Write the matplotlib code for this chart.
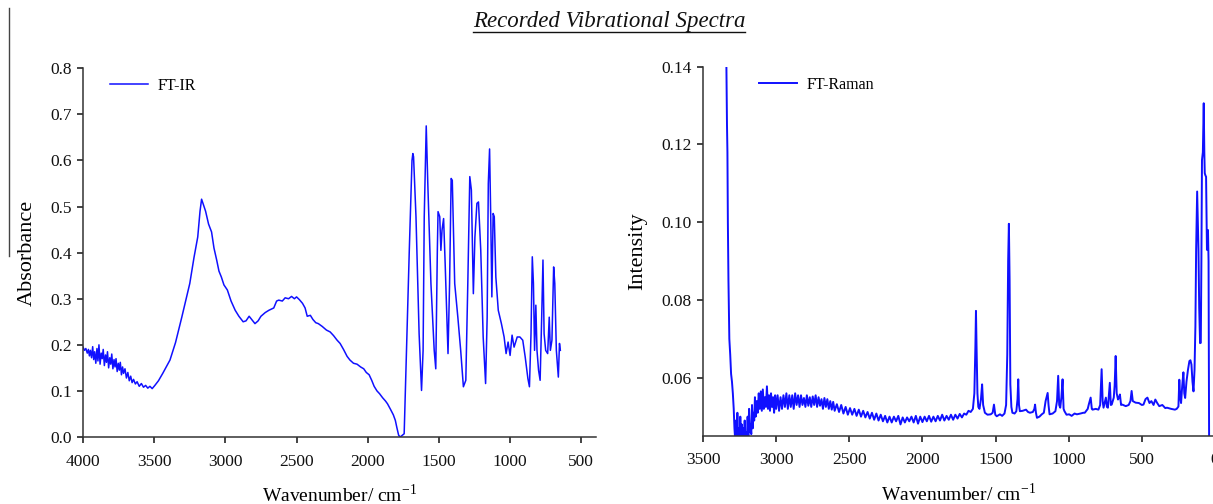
import matplotlib
matplotlib.use("Agg")
import matplotlib.pyplot as plt
from matplotlib.lines import Line2D

plt.rcParams['font.family'] = ['Liberation Serif', 'DejaVu Serif']

# ---------------- data ----------------
title_text = "Recorded Vibrational Spectra"
ir_label = "FT-IR"
raman_label = "FT-Raman"

ir_wn = [4000, 3990, 3980, 3970, 3962, 3955, 3948, 3940, 3932, 3925, 3918, 3910, 3902, 3895,
         3888, 3880, 3872, 3865, 3858, 3850, 3842, 3835, 3828, 3820, 3812, 3805, 3798, 3790,
         3782, 3775, 3768, 3760, 3752, 3745, 3738, 3730, 3722, 3715, 3705, 3695, 3685, 3675,
         3665, 3655, 3645, 3632, 3620, 3605, 3590, 3575, 3560, 3545, 3530, 3514, 3495, 3470,
         3440, 3410, 3389, 3350, 3306, 3275, 3250, 3220, 3194, 3178, 3167, 3155, 3139, 3118,
         3097, 3080, 3061, 3045, 3028, 3010, 2986, 2960, 2931, 2905, 2875, 2855, 2833, 2815,
         2792, 2770, 2750, 2720, 2694, 2660, 2640, 2625, 2600, 2580, 2556, 2535, 2515, 2500,
         2480, 2458, 2440, 2425, 2403, 2385, 2365, 2347, 2320, 2290, 2264, 2240, 2215, 2194,
         2170, 2145, 2125, 2100, 2075, 2050, 2028, 2010, 1990, 1972, 1955, 1935, 1917, 1895,
         1875, 1861, 1840, 1820, 1806, 1795, 1783, 1772, 1760, 1744,
         1708, 1689, 1683, 1678, 1661, 1639, 1622, 1611, 1603, 1594, 1589, 1578, 1556, 1533,
         1522, 1511, 1506, 1494, 1486, 1478, 1467, 1456, 1444, 1436, 1425, 1414, 1406, 1389,
         1367, 1347, 1328, 1311, 1297, 1283, 1272, 1258, 1247, 1233, 1222, 1206, 1189, 1172,
         1161, 1153, 1144, 1136, 1128, 1119, 1111, 1100, 1083, 1061, 1042, 1028, 1014, 1000,
         986, 972, 950, 931, 911, 894, 875, 864, 853, 844, 836, 828, 819, 811, 800, 789, 778,
         769, 761, 750, 736, 725, 717, 706, 694, 686, 675, 661, 653, 647]
ir_abs = [0.195, 0.188, 0.192, 0.182, 0.190, 0.176, 0.188, 0.172, 0.196, 0.168, 0.185, 0.160, 0.192, 0.165,
          0.200, 0.158, 0.182, 0.170, 0.190, 0.155, 0.178, 0.162, 0.185, 0.150, 0.172, 0.158, 0.180, 0.148,
          0.168, 0.152, 0.170, 0.142, 0.160, 0.145, 0.162, 0.135, 0.152, 0.138, 0.148, 0.128, 0.140, 0.122,
          0.132, 0.118, 0.125, 0.115, 0.120, 0.110, 0.116, 0.108, 0.112, 0.106, 0.110, 0.105, 0.112, 0.122,
          0.138, 0.155, 0.167, 0.205, 0.260, 0.300, 0.333, 0.390, 0.434, 0.490, 0.516, 0.505, 0.490, 0.462,
          0.445, 0.410, 0.384, 0.360, 0.347, 0.330, 0.319, 0.295, 0.275, 0.262, 0.250, 0.252, 0.262, 0.255,
          0.246, 0.252, 0.262, 0.270, 0.275, 0.280, 0.295, 0.297, 0.295, 0.302, 0.300, 0.305, 0.300, 0.304,
          0.298, 0.290, 0.280, 0.262, 0.264, 0.255, 0.248, 0.246, 0.240, 0.232, 0.228, 0.220, 0.210, 0.203,
          0.190, 0.175, 0.167, 0.160, 0.158, 0.152, 0.148, 0.140, 0.135, 0.123, 0.110, 0.100, 0.094, 0.085,
          0.078, 0.072, 0.060, 0.048, 0.036, 0.020, 0.004, 0.000, 0.003, 0.007,
          0.405, 0.600, 0.615, 0.608, 0.478, 0.224, 0.101, 0.188, 0.478, 0.600, 0.675, 0.550, 0.333, 0.188,
          0.148, 0.405, 0.489, 0.478, 0.405, 0.449, 0.474, 0.376, 0.260, 0.181, 0.333, 0.561, 0.557, 0.333,
          0.260, 0.188, 0.109, 0.123, 0.333, 0.565, 0.536, 0.311, 0.434, 0.507, 0.510, 0.405, 0.217, 0.116,
          0.260, 0.550, 0.625, 0.478, 0.304, 0.485, 0.478, 0.347, 0.275, 0.246, 0.217, 0.181, 0.206, 0.177,
          0.221, 0.195, 0.217, 0.217, 0.210, 0.174, 0.127, 0.109, 0.224, 0.391, 0.333, 0.188, 0.286, 0.188,
          0.145, 0.123, 0.260, 0.384, 0.224, 0.188, 0.181, 0.260, 0.188, 0.210, 0.369, 0.333, 0.188, 0.130,
          0.203, 0.188]

raman_wn = [3340, 3336, 3333, 3330, 3326, 3320, 3314, 3308, 3302, 3296, 3290, 3285, 3280,
            3275, 3270, 3265, 3260, 3255, 3250, 3245, 3240, 3235, 3230, 3225, 3220, 3215, 3210,
            3205, 3200, 3195, 3190, 3185, 3180, 3175, 3170, 3165, 3160, 3155, 3150, 3145, 3140,
            3133, 3126, 3119, 3112, 3105, 3098, 3091, 3084, 3077, 3070, 3063, 3056, 3049, 3042,
            3035, 3028, 3021, 3014, 3007, 3000, 2990, 2980, 2970, 2960, 2950, 2940, 2930, 2920,
            2910, 2900, 2890, 2880, 2870, 2860, 2850, 2840, 2830, 2820, 2810, 2800, 2790, 2780,
            2770, 2760, 2750, 2740, 2730, 2720, 2710, 2700, 2690, 2680, 2670, 2660, 2650, 2640,
            2630, 2620, 2610, 2600, 2585, 2570, 2555, 2540, 2525, 2510, 2495, 2480, 2465, 2450,
            2435, 2420, 2405, 2390, 2375, 2360, 2345, 2330, 2315, 2300, 2285, 2270, 2255, 2240,
            2225, 2210, 2195, 2180, 2165, 2150, 2135, 2120, 2105, 2090, 2075, 2060, 2045, 2030,
            2015, 2000, 1985, 1970, 1955, 1940, 1925, 1910, 1895, 1880, 1865, 1850, 1835, 1820,
            1805, 1790, 1775, 1760, 1745, 1730, 1715, 1700, 1685, 1670, 1655, 1645, 1638, 1634,
            1630, 1624, 1618, 1610, 1600, 1592, 1585, 1573, 1555, 1533, 1520, 1511, 1502, 1492,
            1470, 1455, 1439, 1428, 1420, 1414, 1409, 1404, 1399, 1392, 1385, 1370, 1358, 1350,
            1345, 1340, 1334, 1315, 1292, 1278, 1265, 1245, 1235, 1230, 1224, 1217, 1200, 1184,
            1170, 1158, 1144, 1138, 1131, 1110, 1091, 1080, 1072, 1065, 1058, 1050, 1042, 1035,
            1029, 1015, 997, 980, 960, 944, 920, 900, 890, 870, 863, 850, 842, 837, 815, 797,
            785, 775, 768, 762, 746, 739, 732, 719, 712, 706, 692, 686, 679, 672, 663, 656, 650,
            642, 634, 610, 590, 578, 570, 562, 543, 520, 500, 489, 475, 462, 448, 435, 420, 408,
            395, 381, 360, 340, 328, 300, 274, 262, 250, 244, 238, 232, 224, 216, 210, 204, 195,
            185, 175, 168, 161, 154, 147, 140, 134, 129, 122, 117, 113, 108, 102, 97, 93, 89, 83,
            77, 73, 70, 65, 61, 55, 48, 44, 41, 40]
raman_int = [0.140, 0.125, 0.118, 0.100, 0.085, 0.070, 0.066, 0.061, 0.059, 0.056, 0.052, 0.047, 0.044,
             0.049, 0.043, 0.051, 0.044, 0.047, 0.043, 0.050, 0.044, 0.048, 0.043, 0.047, 0.044, 0.049, 0.043,
             0.046, 0.044, 0.050, 0.045, 0.052, 0.046, 0.048, 0.0455, 0.053, 0.047, 0.051, 0.049, 0.055, 0.050,
             0.054, 0.051, 0.056, 0.052, 0.0565, 0.0515, 0.057, 0.052, 0.055, 0.0525, 0.0578, 0.052, 0.0555, 0.0515,
             0.056, 0.0525, 0.055, 0.051, 0.0555, 0.052, 0.0555, 0.0515, 0.055, 0.052, 0.0555, 0.0525, 0.056, 0.052,
             0.0555, 0.0525, 0.0555, 0.052, 0.056, 0.053, 0.0555, 0.0525, 0.0555, 0.053, 0.0548, 0.0525, 0.0555, 0.0528,
             0.055, 0.0525, 0.0552, 0.053, 0.0555, 0.0525, 0.055, 0.0528, 0.0545, 0.052, 0.0548, 0.0525, 0.0545, 0.052,
             0.054, 0.0518, 0.0538, 0.0515, 0.0532, 0.0512, 0.053, 0.0508, 0.0525, 0.0505, 0.0522, 0.0505, 0.052, 0.0502,
             0.0518, 0.050, 0.0515, 0.0498, 0.0512, 0.0495, 0.051, 0.0492, 0.0508, 0.049, 0.0505, 0.0488, 0.0502, 0.0485,
             0.050, 0.0485, 0.050, 0.0488, 0.0502, 0.048, 0.0498, 0.0485, 0.0498, 0.0488, 0.050, 0.0485, 0.0502, 0.0482,
             0.050, 0.0486, 0.050, 0.0488, 0.0502, 0.0487, 0.050, 0.0488, 0.0502, 0.049, 0.0505, 0.049, 0.0502, 0.0492,
             0.0505, 0.0492, 0.0505, 0.0495, 0.0507, 0.0498, 0.0508, 0.0505, 0.0515, 0.0512, 0.052, 0.056, 0.068, 0.0772,
             0.068, 0.056, 0.0525, 0.052, 0.0545, 0.0583, 0.053, 0.051, 0.0505, 0.0506, 0.051, 0.0531, 0.0505, 0.0501,
             0.0506, 0.0502, 0.0508, 0.053, 0.066, 0.090, 0.0996, 0.085, 0.0583, 0.0525, 0.051, 0.0508, 0.0514, 0.0545,
             0.0596, 0.053, 0.0514, 0.0515, 0.0518, 0.0512, 0.051, 0.0512, 0.052, 0.0531, 0.051, 0.0497, 0.050, 0.0506,
             0.051, 0.054, 0.0561, 0.053, 0.0506, 0.0508, 0.0514, 0.054, 0.0605, 0.053, 0.0523, 0.055, 0.0596, 0.052,
             0.0514, 0.0505, 0.0506, 0.0502, 0.0508, 0.0506, 0.0508, 0.051, 0.051, 0.052, 0.0531, 0.0549, 0.052, 0.0518, 0.052, 0.0518,
             0.053, 0.0622, 0.054, 0.0523, 0.0549, 0.0525, 0.0523, 0.0587, 0.053, 0.0531, 0.0549, 0.058, 0.0656, 0.056, 0.0544, 0.055, 0.0557,
             0.053, 0.0531, 0.0527, 0.053, 0.054, 0.0566, 0.054, 0.0536, 0.0535, 0.053, 0.0531, 0.0545, 0.0549, 0.0535, 0.054, 0.053, 0.0544,
             0.0535, 0.0527, 0.053, 0.0522, 0.0523, 0.052, 0.0518, 0.052, 0.0526, 0.0595, 0.055, 0.0535, 0.058, 0.0614, 0.056, 0.0548, 0.059,
             0.062, 0.0643, 0.0645, 0.0634, 0.059, 0.0565, 0.062, 0.0732, 0.0929, 0.1079, 0.100, 0.0929, 0.078, 0.0689, 0.069, 0.090, 0.116, 0.118,
             0.1306, 0.118, 0.1126, 0.112, 0.1117, 0.0929, 0.098, 0.090, 0.044, 0.040]

ir_xticks = [4000, 3500, 3000, 2500, 2000, 1500, 1000, 500]
ir_yticks = [0.0, 0.1, 0.2, 0.3, 0.4, 0.5, 0.6, 0.7, 0.8]
raman_xticks = [3500, 3000, 2500, 2000, 1500, 1000, 500, 0]
raman_yticks = [0.06, 0.08, 0.10, 0.12, 0.14]

# ---------------- figure ----------------
W, H = 1213, 504
fig = plt.figure(figsize=(W / 100, H / 100), dpi=100)

line_col = '#1010ff'
spine_col = '#333333'


def style(ax):
    for s in ('top', 'right'):
        ax.spines[s].set_visible(False)
    for s in ('left', 'bottom'):
        ax.spines[s].set_color(spine_col)
        ax.spines[s].set_linewidth(1.1)
    ax.tick_params(direction='out', length=4, width=1.1, colors='#111111',
                   labelsize=12.5, pad=4)


ax1 = fig.add_axes([83 / W, 1 - 437 / H, 512.5 / W, (437 - 68.3) / H])
ax1.plot(ir_wn, ir_abs, color=line_col, lw=1.1, label=ir_label)
ax1.set_xlim(4000, 400)
ax1.set_ylim(0, 0.8)
ax1.set_xticks(ir_xticks)
ax1.set_yticks(ir_yticks)
ax1.set_yticklabels([f"{v:.1f}" for v in ir_yticks])
style(ax1)
ax1.tick_params(axis='x', pad=8)
ax1.set_ylabel("Absorbance", fontsize=16, labelpad=10)
ax1.set_xlabel(r"Wavenumber/ cm$^{\mathregular{-1}}$", fontsize=14, labelpad=10)
ax1.legend(loc='center left', bbox_to_anchor=((110 - 83) / 512.5, (437 - 86) / 368.7),
           frameon=False, fontsize=11.5, handlelength=2.4, handletextpad=0.6,
           borderpad=0, borderaxespad=0)

ax2 = fig.add_axes([703 / W, 1 - 435.7 / H, 512 / W, (435.7 - 66.7) / H])
ax2.plot(raman_wn, raman_int, color=line_col, lw=1.4, label=raman_label)
ax2.set_xlim(3500, 0)
ax2.set_ylim(0.0451, 0.14)
ax2.set_xticks(raman_xticks)
ax2.set_yticks(raman_yticks)
ax2.set_yticklabels([f"{v:.2f}" for v in raman_yticks])
style(ax2)
ax2.tick_params(axis='x', pad=8)
ax2.set_ylabel("Intensity", fontsize=16, labelpad=10)
ax2.set_xlabel(r"Wavenumber/ cm$^{\mathregular{-1}}$", fontsize=14, labelpad=10)
ax2.legend(loc='center left', bbox_to_anchor=((759 - 703) / 512, (435.7 - 85) / 369),
           frameon=False, fontsize=11.5, handlelength=2.4, handletextpad=0.6,
           borderpad=0, borderaxespad=0)

# title with underline
t = fig.text(609 / W, 1 - 22 / H, title_text, ha='center', va='center',
             fontsize=16.5, style='italic', color='#111111')
fig.canvas.draw()
bb = t.get_window_extent()
uy = (bb.y0 + 1) / H
fig.add_artist(Line2D([bb.x0 / W, bb.x1 / W], [uy, uy], transform=fig.transFigure,
                      color='#111111', lw=1.0))

# scan-edge line at the left of the reference image
fig.add_artist(Line2D([9 / W, 9 / W], [1 - 8 / H, 1 - 256 / H], transform=fig.transFigure,
                      color='#444444', lw=1.0))

fig.savefig("out.png", dpi=100)
